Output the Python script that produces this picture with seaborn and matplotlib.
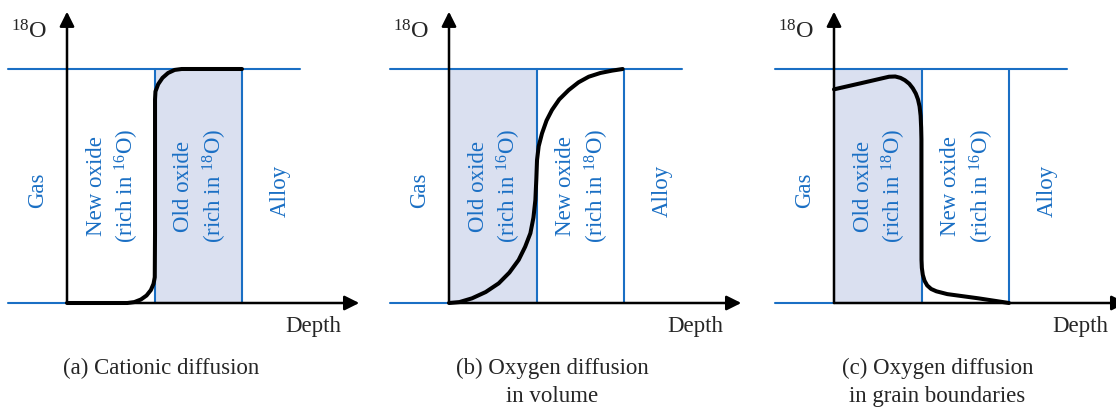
import numpy as np
import pandas as pd
import matplotlib
matplotlib.use("Agg")
import matplotlib.pyplot as plt
import seaborn as sns

# Depth in layer-thickness units (0 = surface, 1 = first interface, 2 = alloy),
# 18O level normalised between the two blue reference lines (0 .. 1).
depth_a = [0.0, 0.35, 0.69, 0.77, 0.845, 0.909, 0.958, 0.989, 1.003, 1.006, 1.006, 1.011, 1.042,
           1.091, 1.155, 1.23, 1.31, 1.7, 2.0]
conc_a = [0.0, 0.0, 0.0, 0.004, 0.015, 0.032, 0.055, 0.082, 0.11, 0.3, 0.87, 0.904, 0.935,
          0.962, 0.983, 0.996, 1.0, 1.0, 1.0]

depth_b = [0.0, 0.12, 0.263, 0.42, 0.568, 0.69, 0.796, 0.87, 0.93, 0.965, 0.987, 0.998, 1.006, 1.025,
           1.063, 1.115, 1.177, 1.26, 1.368, 1.48, 1.597, 1.73, 1.863, 1.985]
conc_b = [0.0, 0.004, 0.02, 0.047, 0.084, 0.13, 0.184, 0.24, 0.298, 0.365, 0.44, 0.53, 0.611, 0.67,
          0.725, 0.78, 0.825, 0.87, 0.91, 0.943, 0.967, 0.983, 0.993, 1.0]

depth_c = [0.0, 0.305, 0.629, 0.70, 0.76, 0.81, 0.86, 0.90, 0.935, 0.96, 0.978, 0.99, 0.996, 0.999,
           1.0, 1.004, 1.015, 1.035, 1.065, 1.11, 1.17, 1.295, 1.65, 2.0]
conc_c = [0.913, 0.939, 0.967, 0.968, 0.962, 0.952, 0.937, 0.918, 0.895, 0.87, 0.84, 0.80, 0.75, 0.70,
          0.184, 0.15, 0.12, 0.095, 0.075, 0.06, 0.05, 0.038, 0.02, 0.0]

curves = [(depth_a, conc_a), (depth_b, conc_b), (depth_c, conc_c)]

layer_labels = [
    ["New oxide\n(rich in $^{16}$O)", "Old oxide\n(rich in $^{18}$O)"],
    ["Old oxide\n(rich in $^{16}$O)", "New oxide\n(rich in $^{18}$O)"],
    ["Old oxide\n(rich in $^{18}$O)", "New oxide\n(rich in $^{16}$O)"],
]
shaded_layer = [1, 0, 0]
captions = ["(a) Cationic diffusion", "(b) Oxygen diffusion\nin volume",
            "(c) Oxygen diffusion\nin grain boundaries"]
caption_x = [1.08, 1.18, 1.18]

sns.set_theme(style="white")
plt.rcParams["font.family"] = ["Liberation Serif", "DejaVu Serif"]
plt.rcParams["mathtext.fontset"] = "custom"
plt.rcParams["mathtext.rm"] = "Liberation Serif"
plt.rcParams["mathtext.it"] = "Liberation Serif:italic"

BLUE = "#1a6fc4"
FILL = "#dae0f0"
FS = 16.5

W, H = 1116, 408
fig = plt.figure(figsize=(W / 100, H / 100), dpi=100)

px_unit = 87.5      # pixels per layer thickness
py_unit = 234.0     # pixels between blue lines
origins = [67, 449, 834]   # pixel x of the y-axis in each panel
xlim = (-0.75, 3.45)
ylim = (-(H - 303) / py_unit, 1 + 69 / py_unit)

for i, x0 in enumerate(origins):
    left = x0 + xlim[0] * px_unit
    width = (xlim[1] - xlim[0]) * px_unit
    ax = fig.add_axes([left / W, 0, width / W, 1])
    ax.set_xlim(*xlim)
    ax.set_ylim(*ylim)
    ax.axis("off")

    # shaded layer
    s = shaded_layer[i]
    ax.axvspan(s, s + 1, ymin=(0 - ylim[0]) / (ylim[1] - ylim[0]),
               ymax=(1 - ylim[0]) / (ylim[1] - ylim[0]), color=FILL, lw=0, zorder=0)

    # blue reference lines
    ax.plot([-0.67, 2.66], [1, 1], color=BLUE, lw=1.5, zorder=1)
    ax.plot([-0.67, 0], [0, 0], color=BLUE, lw=1.5, zorder=1)
    for xb in (1, 2):
        ax.plot([xb, xb], [0, 1], color=BLUE, lw=1.5, zorder=1)

    # axes with arrows
    ax.annotate("", xy=(0, 1.245), xytext=(0, 0),
                arrowprops=dict(arrowstyle="-|>", color="black", lw=1.8,
                                mutation_scale=22, shrinkA=0, shrinkB=0), zorder=3)
    ax.annotate("", xy=(3.34, 0), xytext=(0, 0),
                arrowprops=dict(arrowstyle="-|>", color="black", lw=1.8,
                                mutation_scale=22, shrinkA=0, shrinkB=0), zorder=3)

    # profile
    d, c = curves[i]
    df = pd.DataFrame({"depth": d, "conc": c})
    sns.lineplot(data=df, x="depth", y="conc", sort=False, estimator=None,
                 color="black", lw=2.9, ax=ax, zorder=4,
                 solid_capstyle="round", solid_joinstyle="round")
    ax.set_xlim(*xlim)
    ax.set_ylim(*ylim)
    ax.axis("off")

    # labels
    ax.text(-0.43, 1.16, "$^{18}$O", fontsize=FS + 1, ha="center", va="center")
    ax.text(2.82, -0.10, "Depth", fontsize=FS, ha="center", va="center")
    ax.text(-0.34, 0.48, "Gas", fontsize=FS, color=BLUE, rotation=90,
            ha="center", va="center")
    ax.text(0.53, 0.5, layer_labels[i][0], fontsize=FS, color=BLUE, rotation=90,
            ha="center", va="center", linespacing=1.3)
    ax.text(1.53, 0.5, layer_labels[i][1], fontsize=FS, color=BLUE, rotation=90,
            ha="center", va="center", linespacing=1.3)
    ax.text(2.44, 0.48, "Alloy", fontsize=FS, color=BLUE, rotation=90,
            ha="center", va="center")
    ax.text(caption_x[i], -(358 - 303) / py_unit, captions[i], fontsize=FS,
            ha="center", va="top", linespacing=1.4)

fig.savefig("out.png", dpi=100)
